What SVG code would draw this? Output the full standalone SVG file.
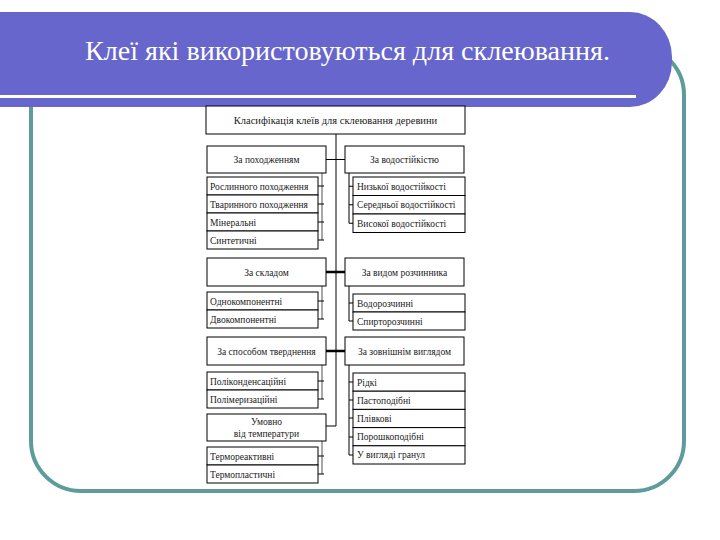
<svg xmlns="http://www.w3.org/2000/svg" width="720" height="540" viewBox="0 0 720 540">
<style>
.box{fill:#fff;stroke:#000;stroke-width:1}
.t{font-family:"Liberation Serif","DejaVu Serif",serif;font-size:9.5px;fill:#1a1a1a}
.c{text-anchor:middle}
.conn{stroke:#000;fill:none;stroke-width:1}
.thick{stroke-width:2.5}
.gray{stroke:#8a8a8a;stroke-width:1.5}
.title{font-family:"Liberation Serif","DejaVu Serif",serif;font-size:27px;fill:#fff}
</style>
<rect width="720" height="540" fill="#fff"/>
<g id="frame">
<rect x="31" y="45" width="653" height="446" rx="50" ry="50" fill="none" stroke="#5E9C9C" stroke-width="4"/>
</g>
<g id="titlebar">
<rect x="-60" y="12" width="732" height="95" rx="42" ry="45" fill="#6666CC"/>
<rect x="0" y="95" width="636" height="3" fill="#fff"/>
<text class="title" x="85" y="60" textLength="525" lengthAdjust="spacingAndGlyphs">Клеї які використовуються для склеювання.</text>
</g>
<g id="connectors">
<path class="conn" d="M336 134V426"/>
<path class="conn" d="M326 159.5H345"/>
<path class="conn thick" d="M326 272H345"/>
<path class="conn thick" d="M326 351H345"/>
<path class="conn" d="M326 426H336"/>
<path class="conn gray" d="M322 173V240M322 286V319M322 365V399M322 441V474"/>
<path class="conn" d="M318 186H324M318 204H324M318 222H324M318 240H324M318 301H324M318 319H324M318 381H324M318 399H324M318 456H324M318 474H324"/>
<path class="conn" d="M349 173V223.25M349 286V321M349 365V455"/>
<path class="conn" d="M349 186.25H353M349 204.75H353M349 223.25H353M349 303H353M349 321H353M349 382H353M349 400H353M349 418H353M349 437H353M349 455H353"/>
</g>
<g id="n-main"><rect class="box" x="206" y="106" width="259" height="28"/><text class="t c" x="335.5" y="124" style="font-size:10.5px">Класифікація клеїв для склеювання деревини</text></g>
<g id="n-origin"><rect class="box" x="207" y="146" width="119" height="27"/><text class="t c" x="266.5" y="163">За походженням</text></g>
<g id="n-water"><rect class="box" x="345" y="146" width="119" height="27"/><text class="t c" x="404.5" y="163">За водостійкістю</text></g>
<g id="n-o1"><rect class="box" x="207" y="177" width="111" height="18"/><text class="t" x="210" y="189.5">Рослинного походження</text></g>
<g id="n-o2"><rect class="box" x="207" y="195" width="111" height="18"/><text class="t" x="210" y="207.5">Тваринного походження</text></g>
<g id="n-o3"><rect class="box" x="207" y="213" width="111" height="18"/><text class="t" x="210" y="225.5">Мінеральні</text></g>
<g id="n-o4"><rect class="box" x="207" y="231" width="111" height="18"/><text class="t" x="210" y="243.5">Синтетичні</text></g>
<g id="n-w1"><rect class="box" x="353" y="177" width="112" height="18.5"/><text class="t" x="357" y="189.75">Низької водостійкості</text></g>
<g id="n-w2"><rect class="box" x="353" y="195.5" width="112" height="18.5"/><text class="t" x="357" y="208.25">Середньої водостійкості</text></g>
<g id="n-w3"><rect class="box" x="353" y="214" width="112" height="18.5"/><text class="t" x="357" y="226.75">Високої водостійкості</text></g>
<g id="n-comp"><rect class="box" x="207" y="258" width="119" height="28"/><text class="t c" x="266.5" y="275.5">За складом</text></g>
<g id="n-solv"><rect class="box" x="345" y="258" width="119" height="28"/><text class="t c" x="404.5" y="275.5">За видом розчинника</text></g>
<g id="n-c1"><rect class="box" x="207" y="292" width="111" height="18"/><text class="t" x="210" y="304.5">Однокомпонентні</text></g>
<g id="n-c2"><rect class="box" x="207" y="310" width="111" height="18"/><text class="t" x="210" y="322.5">Двокомпонентні</text></g>
<g id="n-s1"><rect class="box" x="353" y="294" width="112" height="18"/><text class="t" x="357" y="306.5">Водорозчинні</text></g>
<g id="n-s2"><rect class="box" x="353" y="312" width="112" height="18"/><text class="t" x="357" y="324.5">Спирторозчинні</text></g>
<g id="n-cure"><rect class="box" x="207" y="337" width="119" height="28"/><text class="t c" x="266.5" y="354.5">За способом тверднення</text></g>
<g id="n-look"><rect class="box" x="345" y="337" width="119" height="28"/><text class="t c" x="404.5" y="354.5">За зовнішнім виглядом</text></g>
<g id="n-k1"><rect class="box" x="207" y="372" width="111" height="18"/><text class="t" x="210" y="384.5">Поліконденсаційні</text></g>
<g id="n-k2"><rect class="box" x="207" y="390" width="111" height="18"/><text class="t" x="210" y="402.5">Полімеризаційні</text></g>
<g id="n-l1"><rect class="box" x="353" y="373" width="112" height="18.2"/><text class="t" x="357" y="385.6">Рідкі</text></g>
<g id="n-l2"><rect class="box" x="353" y="391.2" width="112" height="18.2"/><text class="t" x="357" y="403.8">Пастоподібні</text></g>
<g id="n-l3"><rect class="box" x="353" y="409.4" width="112" height="18.2"/><text class="t" x="357" y="422">Плівкові</text></g>
<g id="n-l4"><rect class="box" x="353" y="427.6" width="112" height="18.2"/><text class="t" x="357" y="440.2">Порошкоподібні</text></g>
<g id="n-l5"><rect class="box" x="353" y="445.8" width="112" height="18.2"/><text class="t" x="357" y="458.4">У вигляді гранул</text></g>
<g id="n-temp"><rect class="box" x="207" y="414" width="119" height="27"/><text class="t c" x="266.5" y="425">Умовно</text><text class="t c" x="266.5" y="437">від температури</text></g>
<g id="n-t1"><rect class="box" x="207" y="447" width="111" height="18"/><text class="t" x="210" y="459.5">Термореактивні</text></g>
<g id="n-t2"><rect class="box" x="207" y="465" width="111" height="18"/><text class="t" x="210" y="477.5">Термопластичні</text></g>
</svg>
